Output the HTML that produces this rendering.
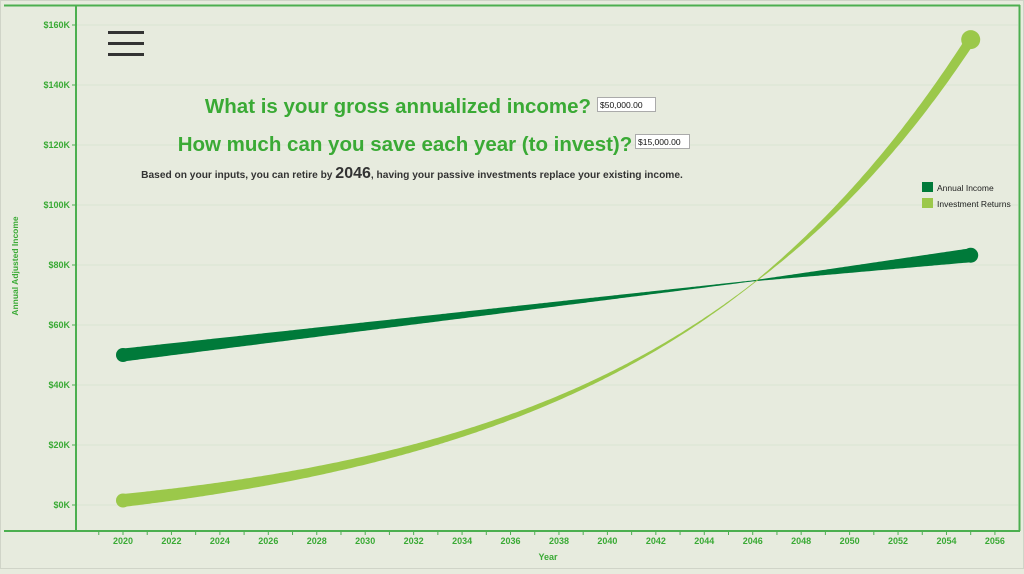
<!DOCTYPE html><html><head><style>
body{margin:0;width:1024px;height:569px;background:#e7ebde;overflow:hidden;font-family:"Liberation Sans",sans-serif}
</style></head><body>
<svg width="1024" height="569" id="s" xmlns="http://www.w3.org/2000/svg" font-family="Liberation Sans, sans-serif">
<rect x="0.5" y="0.5" width="1023" height="568" fill="#e7ebde" stroke="#d0d4c8"/>
<g id="grid" stroke="#d9e6d3" stroke-width="1"></g>
<line x1="4" y1="5.5" x2="1020" y2="5.5" stroke="#4caf50" stroke-width="2"/>
<line x1="76" y1="5" x2="76" y2="531" stroke="#4caf50" stroke-width="2"/>
<line x1="4" y1="531" x2="1020" y2="531" stroke="#4caf50" stroke-width="2"/>
<line x1="1019.5" y1="5" x2="1019.5" y2="531" stroke="#4caf50" stroke-width="2"/>
<g id="ylab" fill="#3aaa35" font-size="9" font-weight="bold" text-anchor="end"></g>
<g id="xlab" fill="#3aaa35" font-size="9" font-weight="bold" text-anchor="middle"></g>
<text x="548" y="560" fill="#3aaa35" font-size="9" font-weight="bold" text-anchor="middle">Year</text>
<text transform="translate(18,266) rotate(-90)" fill="#3aaa35" font-size="8.5" font-weight="bold" text-anchor="middle">Annual Adjusted Income</text>
<g fill="#333"><rect x="108" y="31" width="36" height="3"/><rect x="108" y="42" width="36" height="3"/><rect x="108" y="53" width="36" height="3"/></g>
<g id="curves"></g>
<text x="398" y="113" fill="#3aaa35" font-size="20.5" font-weight="bold" text-anchor="middle">What is your gross annualized income?</text>
<rect x="597.5" y="97.5" width="58" height="14" fill="#fff" stroke="#aaa"/>
<text x="600" y="108" font-size="8.5" fill="#111">$50,000.00</text>
<text x="405" y="151" fill="#3aaa35" font-size="20.5" font-weight="bold" text-anchor="middle">How much can you save each year (to invest)?</text>
<rect x="635.5" y="134.5" width="54" height="14" fill="#fff" stroke="#aaa"/>
<text x="638" y="145" font-size="8.5" fill="#111">$15,000.00</text>
<text x="412" y="178" fill="#333" font-size="10.2" font-weight="bold" text-anchor="middle">Based on your inputs, you can retire by <tspan font-size="16">2046</tspan>, having your passive investments replace your existing income.</text>
<rect x="922" y="182" width="11" height="10" fill="#007a3a"/>
<text x="937" y="191" font-size="8.5" fill="#222">Annual Income</text>
<rect x="922" y="198" width="11" height="10" fill="#9bc84a"/>
<text x="937" y="207" font-size="8.5" fill="#222">Investment Returns</text>
</svg>
<script>
var NS="http://www.w3.org/2000/svg";
function el(p,t,a,txt){var e=document.createElementNS(NS,t);for(var k in a)e.setAttribute(k,a[k]);if(txt)e.textContent=txt;document.getElementById(p).appendChild(e);return e;}
function Y(v){return 505-v*0.003}
function X(t){return 123+(t-2020)*24.22}
for(var k=0;k<=160;k+=20){var y=Y(k*1000);el("grid","line",{x1:77,x2:1018,y1:y,y2:y});el("ylab","text",{x:70,y:y+3},"$"+k+"K");el("grid","line",{x1:72,x2:76,y1:y,y2:y,stroke:"#4caf50"});}
for(var t=2020;t<=2056;t+=2){el("xlab","text",{x:X(t),y:544},""+t);}
for(var t=2019;t<=2056;t++){el("grid","line",{x1:X(t),x2:X(t),y1:531,y2:535,stroke:"#4caf50"});}
function inc(t){return 50000+(t-2020)*950}
function inv2(t){return 1500+11950*(Math.pow(1.078,t-2020)-1)}
function band(f,startW,endW,col){
 var up=[],dn=[];
 for(var t=2020;t<=2055.001;t+=0.1){
  var w=t<2046?1+startW*(2046-t)/26:1+endW*(t-2046)/9;
  var x=X(t),y=Y(f(t));
  up.push(x.toFixed(1)+","+(y-w/2).toFixed(1));dn.unshift(x.toFixed(1)+","+(y+w/2).toFixed(1));
 }
 el("curves","polygon",{points:up.concat(dn).join(" "),fill:col});
 el("curves","circle",{cx:X(2020),cy:Y(f(2020)),r:(1+startW)/2+0.5,fill:col});
 el("curves","circle",{cx:X(2055),cy:Y(f(2055)),r:(1+endW)/2+0.5,fill:col});
}
band(inc,12,13,"#007a3a");
band(inv2,12,17,"#9bc84a");
</script>
</body></html>
